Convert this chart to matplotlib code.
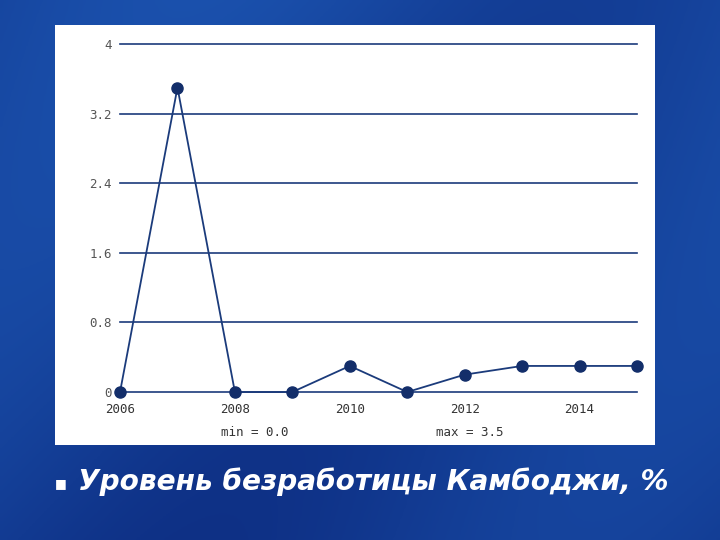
import matplotlib
matplotlib.use("Agg")
import matplotlib.pyplot as plt
import numpy as np

years = [2006, 2007, 2008, 2009, 2010, 2011, 2012, 2013, 2014, 2015]
values = [0.0, 3.5, 0.0, 0.0, 0.3, 0.0, 0.2, 0.3, 0.3, 0.3]
yticks = [0, 0.8, 1.6, 2.4, 3.2, 4]
ytick_labels = ["0", "0.8", "1.6", "2.4", "3.2", "4"]
xticks = [2006, 2008, 2010, 2012, 2014]
caption = "Уровень безработицы Камбоджи, %"

fig = plt.figure(figsize=(7.2, 5.4), dpi=100)
bg = fig.add_axes([0, 0, 1, 1])
yy, xx = np.mgrid[0:1:200j, 0:1:200j]
g = 0.5 + 0.5 * np.sin(xx * 6 + yy * 3) * 0.3 + 0.2 * (1 - yy)
c0 = np.array([0x06, 0x1a, 0x6a]) / 255
c1 = np.array([0x1e, 0x5a, 0xb8]) / 255
img = c0[None, None, :] * (1 - g[..., None]) + c1[None, None, :] * g[..., None]
bg.imshow(np.clip(img, 0, 1), aspect="auto", extent=[0, 1, 0, 1])
bg.axis("off")

panel = fig.add_axes([0.0764, 0.176, 0.833, 0.778])
panel.set_facecolor("white")
panel.set_xticks([]); panel.set_yticks([])
for s in panel.spines.values():
    s.set_visible(False)

ax = fig.add_axes([0.1667, 0.274, 0.718, 0.6444])
ax.set_facecolor("none")
ax.set_xlim(2006, 2015)
ax.set_ylim(0, 4)
for s in ax.spines.values():
    s.set_visible(False)
for t in yticks:
    ax.axhline(t, color="#1b3b7b", lw=1.2, zorder=1, clip_on=False)
ax.plot(years, values, color="#1b3b7b", lw=1.3, marker="o", ms=8,
        markerfacecolor="#132e6a", markeredgecolor="#132e6a", clip_on=False, zorder=3)
ax.set_yticks(yticks)
ax.set_yticklabels(ytick_labels, family="DejaVu Sans Mono", fontsize=9, color="#555555")
ax.set_xticks(xticks)
ax.set_xticklabels([str(x) for x in xticks], family="DejaVu Sans Mono", fontsize=9, color="#333333")
ax.tick_params(length=0, pad=6)
ax.tick_params(axis="x", pad=8)

fig.text(255 / 720, 1 - 432 / 540, "min = %.1f" % min(values), family="DejaVu Sans Mono",
         fontsize=9, color="#333333", ha="center", va="center")
fig.text(470 / 720, 1 - 432 / 540, "max = %.1f" % max(values), family="DejaVu Sans Mono",
         fontsize=9, color="#333333", ha="center", va="center")

fig.text(55 / 720, 1 - 484 / 540, "■", color="white", fontsize=9, va="center")
fig.text(78 / 720, 1 - 482 / 540, caption, color="white", fontsize=20.2,
         fontweight="bold", fontstyle="italic", family="DejaVu Sans", va="center")

fig.savefig("out.png", dpi=100)
